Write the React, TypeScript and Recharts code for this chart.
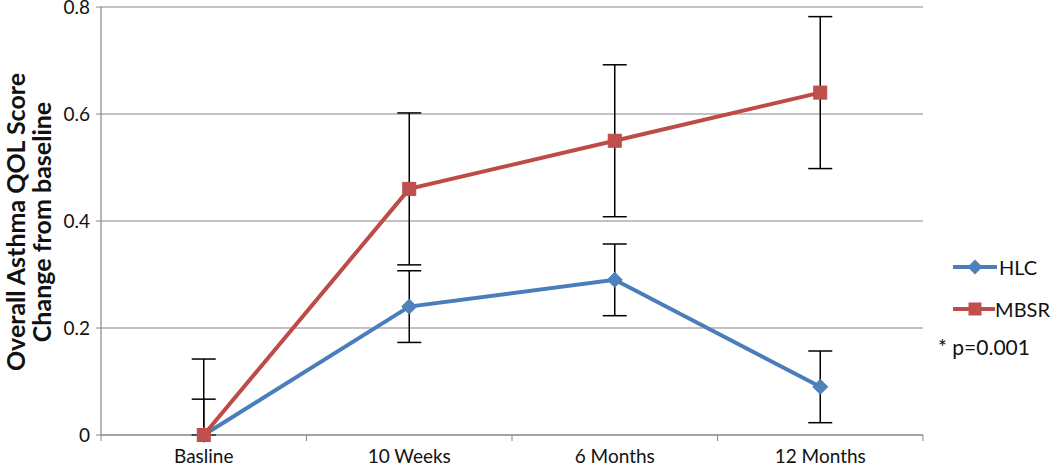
import * as React from 'react';
import { LineChart, Line, XAxis, YAxis, CartesianGrid, ErrorBar, Legend } from 'recharts';

const categories = ['Basline', '10 Weeks', '6 Months', '12 Months'];
const hlcValues = [0, 0.24, 0.29, 0.09];
const mbsrValues = [0, 0.46, 0.55, 0.64];
const hlcErrors = [0.067, 0.067, 0.067, 0.067];
const mbsrErrors = [0.142, 0.142, 0.142, 0.142];
const yTicks = [0, 0.2, 0.4, 0.6, 0.8];

const HLC_LINE = '#4A7EBB';
const HLC_FILL = '#4F81BD';
const MBSR_LINE = '#BE4B48';
const MBSR_FILL = '#C0504D';
const AXIS = '#868686';
const FONT = 'Lato, "Open Sans", sans-serif';

// excel clips the lower whisker at the axis minimum
const data = categories.map((name, i) => ({
    pos: i + 0.5,
    name,
    hlc: hlcValues[i],
    mbsr: mbsrValues[i],
    hlcErr: [Math.min(hlcErrors[i], hlcValues[i]), hlcErrors[i]],
    mbsrErr: [Math.min(mbsrErrors[i], mbsrValues[i]), mbsrErrors[i]]
}));

// boundaries get a tick mark, band centers get the label
const xTicks = categories.flatMap((_, i) => [i, i + 0.5]).concat(categories.length);

const XTick = (props: any) => {
    const { x, y, payload } = props;
    const v = payload.value;
    if (Number.isInteger(v)) {
        return <line x1={x} x2={x} y1={y} y2={y + 6} stroke={AXIS} strokeWidth={1} />;
    }
    return (
        <text x={x} y={y + 28} textAnchor="middle" fontFamily={FONT} fontSize={19} fill="#111">
            {categories[Math.floor(v)]}
        </text>
    );
};

const diamond = (props: any) => {
    const { cx, cy, index } = props;
    if (cx == null || cy == null) return <g key={'hd' + index} />;
    const r = 7.5;
    return (
        <path key={'hd' + index} d={`M${cx} ${cy - r}L${cx + r} ${cy}L${cx} ${cy + r}L${cx - r} ${cy}Z`}
            fill={HLC_FILL} stroke={HLC_LINE} strokeWidth={1} />
    );
};

const square = (props: any) => {
    const { cx, cy, index } = props;
    if (cx == null || cy == null) return <g key={'ms' + index} />;
    const s = 13;
    return <rect key={'ms' + index} x={cx - s / 2} y={cy - s / 2} width={s} height={s} fill={MBSR_FILL} stroke={MBSR_LINE} strokeWidth={1} />;
};

const legendItems = [
    { name: 'HLC', line: HLC_LINE, fill: HLC_FILL, shape: 'diamond' },
    { name: 'MBSR', line: MBSR_LINE, fill: MBSR_FILL, shape: 'square' }
];

const renderLegend = () => (
    <div style={{ fontFamily: FONT, fontSize: 20, color: '#111' }}>
        {legendItems.map(item => (
            <div key={item.name} style={{ display: 'flex', alignItems: 'center', height: 42 }}>
                <svg width={46} height={20}>
                    <line x1={0} x2={44} y1={10} y2={10} stroke={item.line} strokeWidth={4} />
                    {item.shape === 'diamond'
                        ? <path d="M22 2.5L29.5 10L22 17.5L14.5 10Z" fill={item.fill} />
                        : <rect x={15.5} y={3.5} width={13} height={13} fill={item.fill} />}
                </svg>
                <span>{item.name}</span>
            </div>
        ))}
    </div>
);

const yTitle = () => (
    <g>
        <text transform="translate(25,222) rotate(-90)" textAnchor="middle" fontFamily={FONT} fontSize={25} fontWeight="bold" fill="#111">
            Overall Asthma QOL Score
        </text>
        <text transform="translate(51,222) rotate(-90)" textAnchor="middle" fontFamily={FONT} fontSize={25} fontWeight="bold" fill="#111">
            Change from baseline
        </text>
    </g>
);

export default function App() {
    return (
        <div style={{ position: 'absolute', left: 0, top: 0, width: 1050, height: 468, background: '#fff' }}>
            <LineChart width={1050} height={468} data={data} margin={{ top: 7, right: 127, bottom: 0, left: 0 }}>
                <CartesianGrid vertical={false} stroke={AXIS} strokeWidth={1.2} />
                <XAxis type="number" dataKey="pos" domain={[0, categories.length]} ticks={xTicks} interval={0}
                    height={33} tickSize={0} tickMargin={0} tickLine={false} tick={<XTick />}
                    axisLine={{ stroke: AXIS, strokeWidth: 1.2 }} allowDecimals />
                <YAxis domain={[0, 0.8]} ticks={yTicks} interval={0} width={101} tickSize={5} tickMargin={6}
                    tickFormatter={(v: number) => String(v)}
                    tick={{ fontFamily: FONT, fontSize: 19, fill: '#111' }}
                    tickLine={{ stroke: AXIS }} axisLine={{ stroke: AXIS, strokeWidth: 1.2 }}
                    label={{ content: yTitle }} />
                <Legend content={renderLegend} layout="vertical" verticalAlign="middle" align="center"
                    wrapperStyle={{ left: 953, top: 246, width: 97, right: 'auto', bottom: 'auto', transform: 'none' }} />
                <Line dataKey="hlc" name="HLC" stroke={HLC_LINE} strokeWidth={4} dot={diamond} activeDot={false}
                    isAnimationActive={false}>
                    <ErrorBar dataKey="hlcErr" direction="y" width={12} stroke="#000" strokeWidth={1.5} isAnimationActive={false} />
                </Line>
                <Line dataKey="mbsr" name="MBSR" stroke={MBSR_LINE} strokeWidth={4} dot={square} activeDot={false}
                    isAnimationActive={false}>
                    <ErrorBar dataKey="mbsrErr" direction="y" width={12} stroke="#000" strokeWidth={1.5} isAnimationActive={false} />
                </Line>
            </LineChart>
            <div style={{ position: 'absolute', left: 938, top: 334, fontFamily: FONT, fontSize: 21, color: '#111', whiteSpace: 'nowrap' }}>
                * p=0.001
            </div>
        </div>
    );
}
